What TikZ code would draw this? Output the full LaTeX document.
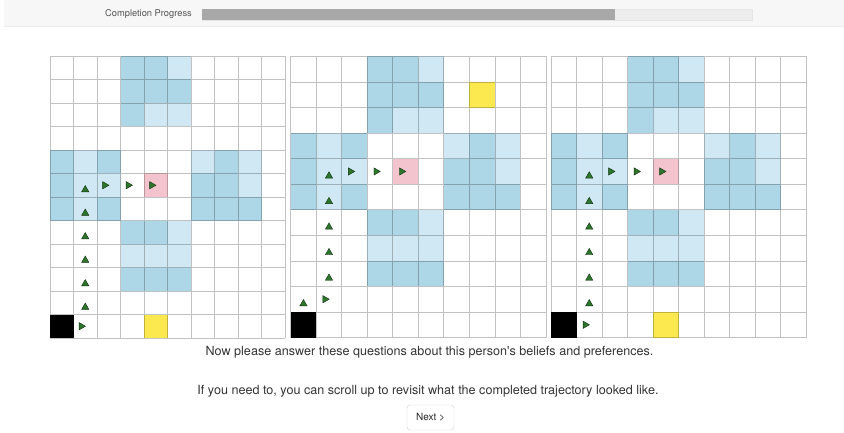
\documentclass[tikz,border=0pt]{standalone}
\usepackage{fontspec}
\newfontfamily\uifont{TeX Gyre Heros}
\usetikzlibrary{shapes.geometric}

\definecolor{deepblue}{RGB}{173,214,230}
\definecolor{paleblue}{RGB}{208,232,243}
\definecolor{goalpink}{RGB}{244,196,206}
\definecolor{goalyellow}{RGB}{252,233,79}
\definecolor{walkgreen}{RGB}{44,118,44}

\begin{document}
\begin{tikzpicture}[
    x=1pt, y=-1pt, font=\uifont,
    dk/.style={fill=deepblue},
    lt/.style={fill=paleblue},
    cellgrid/.style={draw=black, draw opacity=0.24, line width=0.8pt},
    tri/.style={regular polygon, regular polygon sides=3, fill=walkgreen,
                draw=black!60!walkgreen, line width=0.4pt, minimum size=8.4pt,
                inner sep=0pt},
    upmk/.style={tri, yshift=-4.5pt},
    rtmk/.style={tri, shape border rotate=-90, xshift=-4pt},
    msg/.style={text=black!80, font=\uifont\fontsize{12.6pt}{15pt}\selectfont},
  ]
  \useasboundingbox (0,0) rectangle (844,433);

  % progress header
  \fill[black!3] (4,0) rectangle (844,26);
  \draw[black!8] (4,26) -- (844,26);
  \node[anchor=east, inner sep=0pt, text=black!67, font=\uifont\fontsize{9.3pt}{11pt}\selectfont]
    (proglabel) at (192,14.5) {Completion Progress};
  \filldraw[fill=black!7, draw=black!10] (202,9) rectangle (752,20);
  \fill[black!34] (202,9) rectangle (615,20);

  % grid 1: 10 x 12
  \begin{scope}[shift={(50,56)}, x=23.5pt, y=-23.5pt]
    \foreach \c/\r in {3/0,4/0,3/1,4/1,5/1,3/2,0/4,2/4,7/4,0/5,6/5,7/5,
                       0/6,2/6,6/6,7/6,8/6,3/7,4/7,3/9,4/9,5/9}
      \fill[dk] (\c,\r) rectangle ++(1,1);
    \foreach \c/\r in {5/0,4/2,5/2,1/4,6/4,8/4,1/5,2/5,8/5,1/6,5/7,3/8,4/8,5/8}
      \fill[lt] (\c,\r) rectangle ++(1,1);
    \fill[goalpink] (4,5) rectangle ++(1,1);
    \fill[black] (0,11) rectangle ++(1,1);
    \fill[goalyellow] (4,11) rectangle ++(1,1);
    \draw[cellgrid] \foreach \i in {0,...,10}{(\i,0) -- (\i,12)}
                    \foreach \j in {0,...,12}{(0,\j) -- (10,\j)};
    \foreach \r in {5,...,10}
      \node[upmk] (a-u\r) at (1.5,\r+0.5) {};
    \foreach \c in {2,3,4}
      \node[rtmk] (a-r\c) at (\c+0.5,5.5) {};
    \node[rtmk] (a-start) at (1.5,11.5) {};
  \end{scope}

  % grid 2: 10 x 11
  \begin{scope}[shift={(290.7,56.5)}, x=25.53pt, y=-25.55pt]
    \foreach \c/\r in {3/0,4/0,3/1,4/1,5/1,3/2,0/3,2/3,7/3,0/4,6/4,7/4,
                       0/5,2/5,6/5,7/5,8/5,3/6,4/6,3/8,4/8,5/8}
      \fill[dk] (\c,\r) rectangle ++(1,1);
    \foreach \c/\r in {5/0,4/2,5/2,1/3,6/3,8/3,1/4,2/4,8/4,1/5,5/6,3/7,4/7,5/7}
      \fill[lt] (\c,\r) rectangle ++(1,1);
    \fill[goalpink] (4,4) rectangle ++(1,1);
    \fill[goalyellow] (7,1) rectangle ++(1,1);
    \fill[black] (0,10) rectangle ++(1,1);
    \draw[cellgrid] \foreach \i in {0,...,10}{(\i,0) -- (\i,11)}
                    \foreach \j in {0,...,11}{(0,\j) -- (10,\j)};
    \foreach \r in {4,...,8}
      \node[upmk] (b-u\r) at (1.5,\r+0.5) {};
    \foreach \c in {2,3,4}
      \node[rtmk] (b-r\c) at (\c+0.5,4.5) {};
    \node[upmk] (b-start) at (0.5,9.5) {};
    \node[rtmk] (b-turn) at (1.5,9.5) {};
  \end{scope}

  % grid 3: 10 x 11
  \begin{scope}[shift={(551,56.5)}, x=25.5pt, y=-25.55pt]
    \foreach \c/\r in {3/0,4/0,3/1,4/1,5/1,3/2,0/3,2/3,7/3,0/4,6/4,7/4,
                       0/5,2/5,6/5,7/5,8/5,3/6,4/6,3/8,4/8,5/8}
      \fill[dk] (\c,\r) rectangle ++(1,1);
    \foreach \c/\r in {5/0,4/2,5/2,1/3,6/3,8/3,1/4,2/4,8/4,1/5,5/6,3/7,4/7,5/7}
      \fill[lt] (\c,\r) rectangle ++(1,1);
    \fill[goalpink] (4,4) rectangle ++(1,1);
    \fill[black] (0,10) rectangle ++(1,1);
    \fill[goalyellow] (4,10) rectangle ++(1,1);
    \draw[cellgrid] \foreach \i in {0,...,10}{(\i,0) -- (\i,11)}
                    \foreach \j in {0,...,11}{(0,\j) -- (10,\j)};
    \foreach \r in {4,...,9}
      \node[upmk] (c-u\r) at (1.5,\r+0.5) {};
    \foreach \c in {2,3,4}
      \node[rtmk] (c-r\c) at (\c+0.5,4.5) {};
    \node[rtmk] (c-start) at (1.5,10.5) {};
  \end{scope}

  \node[msg] (prompt) at (429.5,352)
    {Now please answer these questions about this person's beliefs and preferences.};
  \node[msg] (hint) at (428,391)
    {If you need to, you can scroll up to revisit what the completed trajectory looked like.};
  \node[draw=black!20, rounded corners=3pt, minimum width=47pt, minimum height=25pt,
        text=black!85, font=\uifont\fontsize{10pt}{12pt}\selectfont]
    (next) at (430.5,417.5) {Next >};
\end{tikzpicture}
\end{document}
